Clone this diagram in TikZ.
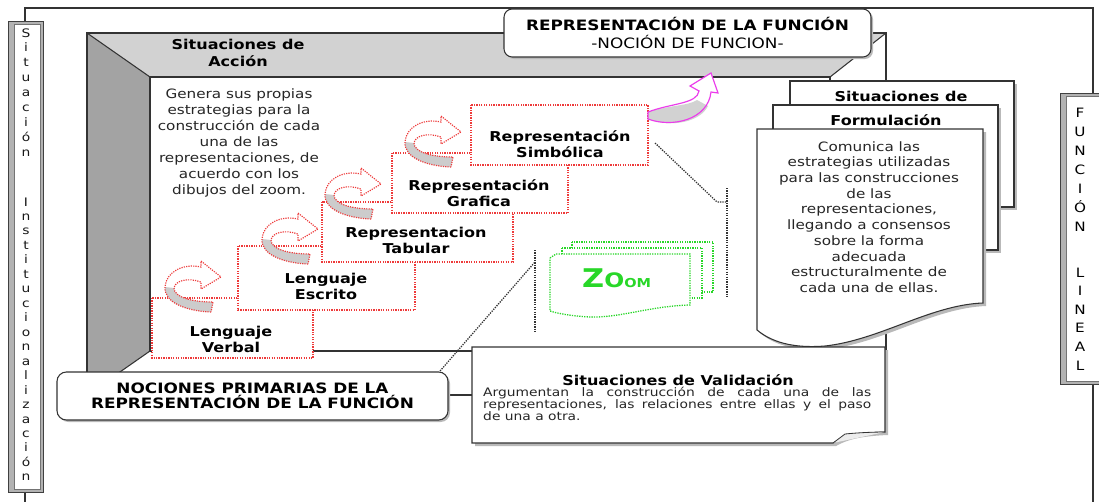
\documentclass[tikz,border=0pt]{standalone}
\usepackage{fontspec}
\setmainfont{DejaVu Sans}[FakeStretch=1.18]
\definecolor{stepred}{RGB}{238,58,58}
\definecolor{zoomgreen}{RGB}{40,215,40}
\definecolor{pinkarr}{RGB}{235,60,235}
\begin{document}
\begin{tikzpicture}[x=0.03cm,y=-0.03cm,
  frame/.style={draw=black!80, line width=0.9pt},
  stepbox/.style={draw=stepred, densely dotted, line width=1.1pt, fill=white},
  steplbl/.style={font=\fontsize{11.6}{13.6}\selectfont\bfseries, align=center, inner sep=0pt},
  bodytxt/.style={font=\fontsize{11}{13.5}\selectfont, align=center, inner sep=0pt, text=black!85},
  titletxt/.style={font=\fontsize{11.6}{14.5}\selectfont\bfseries, align=center, inner sep=0pt},
  vletter/.style={font=\fontsize{10}{10}\selectfont, inner sep=0pt, anchor=base, text=black!90},
  bigletter/.style={font=\fontsize{11}{11}\selectfont, inner sep=0pt, anchor=base},
  dotcon/.style={draw=black!80, densely dotted, line width=1.1pt},
  docst/.style={draw=black!80, line width=0.9pt, fill=white},
  zoomst/.style={draw=zoomgreen, densely dotted, line width=1.1pt, fill=white},
  curvarr/.pic={
    \fill[white] (46,22) .. controls (20,21) and (-1,12) .. (0,-3) .. controls (1,-18) and (18,-27) .. (36,-23)
      -- (36,-29) -- (56,-13) -- (36,-1) -- (36,-8) .. controls (22,-13) and (10,-9) .. (9,-2)
      .. controls (9,7) and (26,12) .. (48,12) -- cycle;
    \fill[gray!40] (46,22) .. controls (20,21) and (-1,12) .. (0,-3) -- (9,-2)
      .. controls (9,7) and (26,12) .. (48,12) -- cycle;
    \draw[stepred, densely dotted, line width=1pt] (46,22) .. controls (20,21) and (-1,12) .. (0,-3) .. controls (1,-18) and (18,-27) .. (36,-23)
      -- (36,-29) -- (56,-13) -- (36,-1) -- (36,-8) .. controls (22,-13) and (10,-9) .. (9,-2)
      .. controls (9,7) and (26,12) .. (48,12) -- cycle;
  }
]
\useasboundingbox (0,0) rectangle (1099,502);
\fill[white] (0,0) rectangle (1099,502);

% outer frame
\coordinate (fTL) at (25,8);
\coordinate (fTR) at (1093,8);
\coordinate (lboxTop) at (25,21);
\coordinate (lboxBot) at (25,492);
\coordinate (rboxTop) at (1093,93);
\coordinate (rboxBot) at (1093,384);
\draw[frame] (lboxTop) -- (fTL) -- (fTR) -- (rboxTop);
\draw[frame] (lboxBot) -- (25,502);
\draw[frame] (rboxBot) -- (1093,502);

% left vertical box
\fill[gray!60] (8,21) rectangle (43,492);
\draw[black!75, line width=0.6pt] (8,21) rectangle (43,492);
\fill[white] (14,24) rectangle (40,489);
\draw[black!55, line width=0.5pt] (14,24) rectangle (40,489);
\foreach \ch [count=\i from 0] in {S,i,t,u,a,c,i,ó,n}
  \node[vletter] (ls\i) at (26, 37+14.9*\i) {\ch};
\foreach \ch [count=\i from 0] in {I,n,s,t,i,t,u,c,i,o,n,a,l,i,z,a,c,i,ó,n}
  \node[vletter] (li\i) at (26, 206+14.47*\i) {\ch};

% right vertical box
\fill[gray!60] (1060,93) rectangle (1110,384);
\draw[black!75, line width=0.6pt] (1060,93) rectangle (1110,384);
\fill[white] (1066,96) rectangle (1110,381);
\draw[black!55, line width=0.5pt] (1066,96) rectangle (1110,381);
\foreach \ch [count=\i from 0] in {F,U,N,C,I,Ó,N}
  \node[bigletter] (rf\i) at (1080, 117+19.1*\i) {\ch};
\foreach \ch [count=\i from 0] in {L,I,N,E,A,L}
  \node[bigletter] (rl\i) at (1080, 277+18.6*\i) {\ch};

% 3D frame "Situaciones de Accion"
\fill[white] (87,33) rectangle (886,395);
\fill[gray!35] (87,33) -- (886,33) -- (830,77) -- (150,77) -- cycle;
\fill[gray!72] (87,33) -- (150,77) -- (150,351) -- (87,395) -- cycle;
\draw[frame] (87,33) rectangle (886,395);
\draw[frame] (150,77) rectangle (830,351);
\draw[frame] (87,33) -- (150,77) (886,33) -- (830,77) (87,395) -- (150,351) (886,395) -- (830,351);

\node[titletxt] (acctitle) at (238,53) {Situaciones de\\Acción};
\node[bodytxt, font=\fontsize{11}{13.6}\selectfont] (acctext) at (239,143)
  {Genera sus propias\\estrategias para la\\construcción de cada\\una de las\\representaciones, de\\acuerdo con los\\dibujos del zoom.};

% steps
\path[stepbox] (152,298) rectangle (313,358);
\node[steplbl] (verbal) at (231,339) {Lenguaje\\Verbal};
\pic at (165,290) {curvarr};
\path[stepbox] (238,246) rectangle (415,310);
\node[steplbl] (escrito) at (326,286) {Lenguaje\\Escrito};
\pic at (262,242) {curvarr};
\path[stepbox] (322,202) rectangle (513,262);
\node[steplbl] (tabular) at (416,240) {Representacion\\Tabular};
\pic at (325,197) {curvarr};
\path[stepbox] (392,153) rectangle (568,213);
\node[steplbl] (grafica) at (479,193) {Representación\\Grafica};
\pic at (405,145) {curvarr};
\path[stepbox] (471,105) rectangle (648,165);
\node[steplbl] (simbolica) at (560,144) {Representación\\Simbólica};

% pink curved arrow
\fill[white] (648,119) .. controls (672,128) and (708,120) .. (711,92) -- (718,93) -- (711,73) -- (690,86) -- (699,91)
  .. controls (697,104) and (672,103) .. (648,112) -- cycle;
\fill[gray!35] (648,119) .. controls (672,128) and (700,122) .. (708,106) -- (697,100)
  .. controls (688,106) and (670,105) .. (648,112) -- cycle;
\draw[pinkarr, line width=1pt] (648,119) .. controls (672,128) and (708,120) .. (711,92) -- (718,93) -- (711,73) -- (690,86) -- (699,91)
  .. controls (697,104) and (672,103) .. (648,112) -- cycle;

% dotted connectors
\coordinate (sd1) at (655,143);
\coordinate (sd2) at (717,202);
\coordinate (sd3) at (727,202);
\coordinate (sv1) at (727,188);
\coordinate (sv2) at (727,297);
\draw[dotcon] (sd1) -- (sd2) -- (sd3);
\draw[dotcon] (sv1) -- (sv2);
\coordinate (nd1) at (440,371);
\coordinate (nd2) at (535,262);
\coordinate (nv1) at (535,250);
\coordinate (nv2) at (535,333);
\draw[dotcon] (nd1) -- (nd2);
\draw[dotcon] (nv1) -- (nv2);

% zoom drawing
\path[zoomst] (572,242) rectangle (713,292);
\path[zoomst] (562,248) rectangle (702,298);
\path[zoomst] (550,258) -- (556,254) -- (690,254) -- (690,305) .. controls (650,306) and (620,318) .. (590,317)
  .. controls (570,316) and (556,313) .. (550,311) -- cycle;
\node[anchor=base west, inner sep=0pt, text=zoomgreen, font=\bfseries] (zoomtxt) at (582,287)
  {\fontsize{22}{22}\selectfont Z\fontsize{17}{17}\selectfont O\fontsize{10.5}{10.5}\selectfont OM};

% formulation documents
\fill[gray!55] (793,84) rectangle (1017,210);
\path[docst] (790,81) rectangle (1014,207);
\node[titletxt] (formt1) at (901,96) {Situaciones de};
\fill[gray!55] (776,108) rectangle (1001,253);
\path[docst] (773,105) rectangle (998,250);
\node[titletxt] (formt2) at (886,120) {Formulación};
\fill[gray!55] (760,132) -- (986,132) -- (986,306) .. controls (933,308) and (883,343) .. (828,349)
  .. controls (803,351) and (778,348) .. (760,333) -- cycle;
\path[docst] (757,129) -- (983,129) -- (983,303) .. controls (930,305) and (880,340) .. (825,346)
  .. controls (800,348) and (775,345) .. (757,330) -- cycle;
\node[bodytxt, font=\fontsize{11}{13.4}\selectfont] (formtext) at (869,217)
  {Comunica las\\estrategias utilizadas\\para las construcciones\\de las\\representaciones,\\llegando a consensos\\sobre la forma\\adecuada\\estructuralmente de\\cada una de ellas.};

% top title box
\fill[gray!55, rounded corners=7pt] (506,11) rectangle (873,59);
\node[draw=black!80, line width=0.9pt, rounded corners=7pt, fill=white, minimum width=11.01cm,
  minimum height=1.44cm, align=center, inner sep=0pt, font=\fontsize{12.2}{15.3}\selectfont] (topbox) at (687.5,33)
  {\textbf{REPRESENTACIÓN DE LA FUNCIÓN}\\-NOCIÓN DE FUNCION-};

% nociones box
\fill[gray!55, rounded corners=8pt] (59,374) rectangle (450,422);
\node[draw=black!80, line width=0.9pt, rounded corners=8pt, fill=white, minimum width=11.73cm,
  minimum height=1.44cm, align=center, inner sep=0pt, font=\fontsize{12.2}{12.9}\selectfont\bfseries] (nociones) at (252.5,396)
  {NOCIONES PRIMARIAS DE LA\\REPRESENTACIÓN DE LA FUNCIÓN};

% validation box
\fill[gray!55] (475,350) -- (888,350) -- (888,435) .. controls (863,436) and (848,439) .. (836,446) -- (475,446) -- cycle;
\path[docst] (472,347) -- (885,347) -- (885,432) .. controls (860,433) and (845,436) .. (833,443) -- (472,443) -- cycle;
\draw[black!80, line width=0.7pt, fill=gray!15] (833,443) -- (845,434) .. controls (855,433) and (870,432) .. (885,432);
\node[titletxt, anchor=base] (valtitle) at (678,385) {Situaciones de Validación};
\node[anchor=north west, inner sep=0pt, text width=11.64cm, align=justify,
  font=\fontsize{10}{10.2}\selectfont, text=black!85] (valtext) at (483,387)
  {\setlength{\lineskiplimit}{-5pt}Argumentan la construcción de cada una de las\linebreak representaciones, las relaciones entre ellas y el paso\linebreak de una a otra.};
\end{tikzpicture}
\end{document}
